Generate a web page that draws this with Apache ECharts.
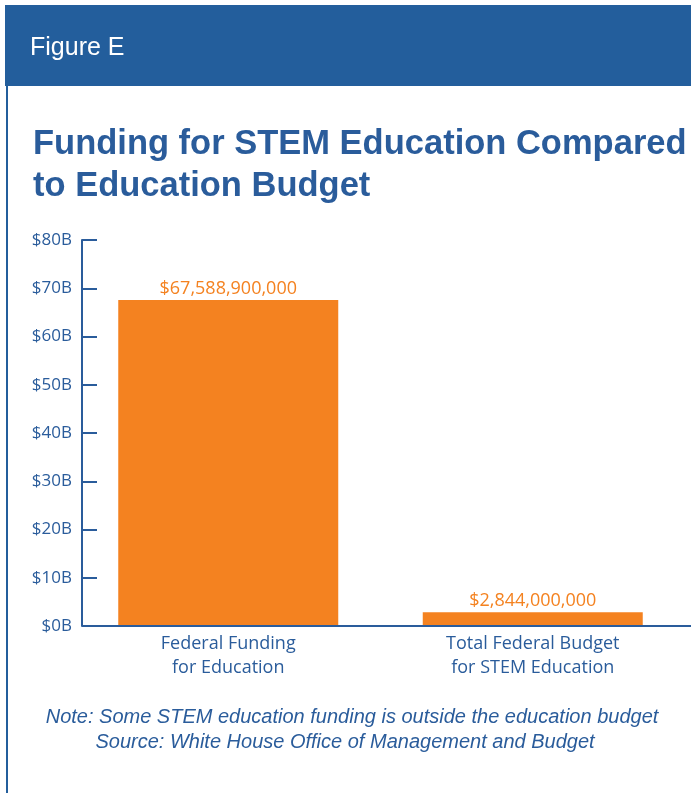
<!DOCTYPE html>
<html>
<head>
<meta charset="utf-8">
<style>
  html, body { margin: 0; padding: 0; background: #ffffff; }
  #chart { width: 691px; height: 793px; }
</style>
<script src="https://cdn.jsdelivr.net/npm/echarts@6/dist/echarts.min.js"></script>
</head>
<body>
<div id="chart"></div>
<script>
// Funding categories and amounts (US dollars)
const categories = ['Federal Funding\nfor Education', 'Total Federal Budget\nfor STEM Education'];
const amounts = [67588900000, 2844000000];
// Y axis range in dollars
const axisMin = 0;
const axisMax = 80000000000;
const axisStep = 10000000000;

const figureLabel = 'Figure E';
const chartTitle = 'Funding for STEM Education Compared\nto Education Budget';
const noteLines = [
  'Note: Some STEM education funding is outside the education budget',
  'Source: White House Office of Management and Budget'
];

const BLUE = '#2a5c9b';
const HEADER = '#235e9c';
const ORANGE = '#f48220';

const GRID_LEFT = 76, GRID_RIGHT = 6, GRID_TOP = 240, GRID_BOTTOM_Y = 626;

const chart = echarts.init(document.getElementById('chart'), null, { renderer: 'canvas' });

chart.setOption({
  backgroundColor: '#ffffff',
  animation: false,
  title: {
    text: chartTitle,
    left: 28,
    top: 118,
    textStyle: {
      fontFamily: 'Liberation Sans, Arial, sans-serif',
      fontWeight: 'bold',
      fontSize: 34.5,
      lineHeight: 42,
      color: BLUE
    }
  },
  graphic: [
    { type: 'rect', shape: { x: 5, y: 5, width: 686, height: 81 }, style: { fill: HEADER } },
    { type: 'rect', shape: { x: 6, y: 86, width: 2, height: 707 }, style: { fill: HEADER } },
    // baseline of the plot, running from the value axis to the right edge
    { type: 'line', shape: { x1: 82, y1: GRID_BOTTOM_Y, x2: 691, y2: GRID_BOTTOM_Y }, style: { stroke: BLUE, lineWidth: 2 }, z: 10 },
    {
      type: 'text', left: 30, top: 36,
      style: { text: figureLabel, fill: '#ffffff', fontSize: 25, fontFamily: 'Liberation Sans, Arial, sans-serif' }
    },
    {
      type: 'text', x: 352, y: 717,
      style: {
        text: noteLines[0], fill: BLUE, fontSize: 20, fontStyle: 'italic',
        fontFamily: 'Liberation Sans, Arial, sans-serif', align: 'center', verticalAlign: 'middle'
      }
    },
    {
      type: 'text', x: 345, y: 742,
      style: {
        text: noteLines[1], fill: BLUE, fontSize: 20, fontStyle: 'italic',
        fontFamily: 'Liberation Sans, Arial, sans-serif', align: 'center', verticalAlign: 'middle'
      }
    }
  ],
  grid: { left: GRID_LEFT, right: GRID_RIGHT, top: GRID_TOP, bottom: 793 - GRID_BOTTOM_Y, containLabel: false },
  xAxis: {
    type: 'category',
    data: categories,
    axisLine: { show: false },
    axisTick: { show: false },
    axisLabel: {
      color: BLUE, fontSize: 18, lineHeight: 24, margin: 6,
      fontFamily: 'Open Sans, Noto Sans, sans-serif'
    }
  },
  yAxis: {
    type: 'value',
    offset: -6,
    min: axisMin, max: axisMax, interval: axisStep,
    axisLine: { show: true, lineStyle: { color: BLUE, width: 2 } },
    axisTick: { show: true, inside: true, length: 15, lineStyle: { color: BLUE, width: 2 } },
    splitLine: { show: false },
    axisLabel: {
      color: BLUE, fontSize: 17, margin: 10,
      fontFamily: 'Open Sans, Noto Sans, sans-serif',
      formatter: v => '$' + (v / 1e9) + 'B'
    }
  },
  series: [{
    type: 'bar',
    data: amounts,
    barWidth: 220,
    itemStyle: { color: ORANGE },
    label: {
      show: true, position: 'top', distance: 2,
      color: ORANGE, fontSize: 18,
      fontFamily: 'Open Sans, Noto Sans, sans-serif',
      formatter: p => '$' + p.value.toLocaleString('en-US')
    }
  }]
});
</script>
</body>
</html>
